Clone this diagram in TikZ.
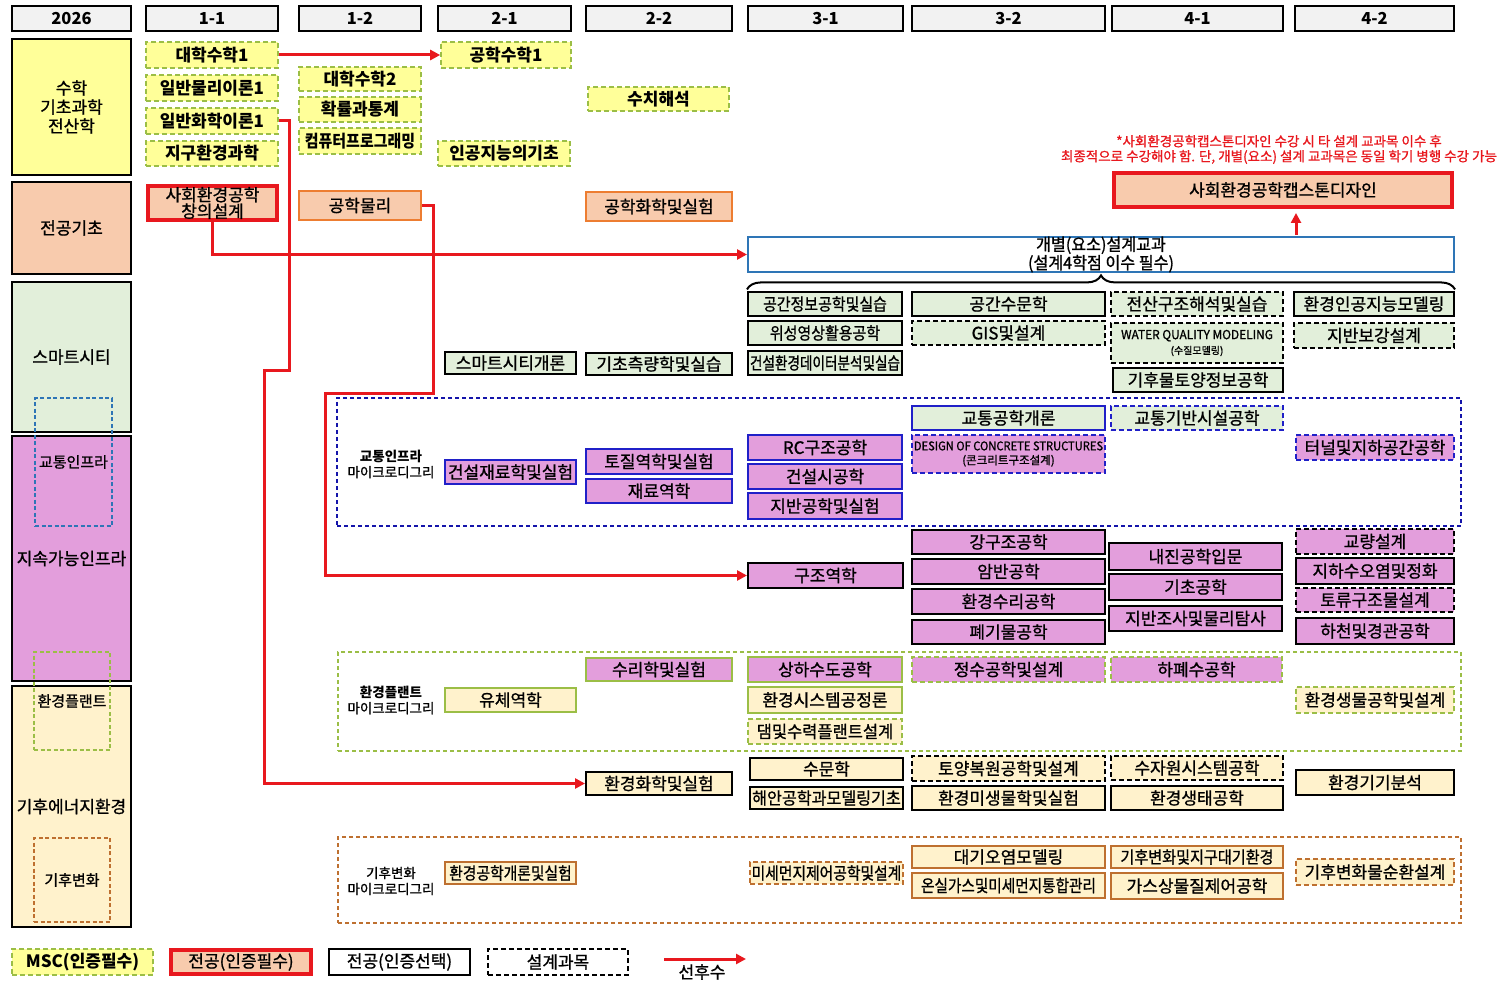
\documentclass[tikz,border=0pt]{standalone}
\usepackage{fontspec}
\setmainfont{Noto Sans CJK KR}[UprightFeatures={FakeBold=1}]
\usepackage{graphicx}
\usetikzlibrary{arrows.meta,decorations.pathreplacing}
\definecolor{cyel}{HTML}{FFFF99}
\definecolor{cgrn}{RGB}{155,190,70}
\definecolor{chdr}{HTML}{F2F2F2}
\definecolor{csal}{HTML}{F8CBAD}
\definecolor{corg}{HTML}{ED7D31}
\definecolor{cred}{RGB}{232,24,30}
\definecolor{cgrl}{HTML}{E2EFDA}
\definecolor{cpnk}{RGB}{227,158,220}
\definecolor{ccrm}{HTML}{FFF2CC}
\definecolor{cblu}{RGB}{32,32,200}
\definecolor{cnav}{RGB}{20,20,170}
\definecolor{csky}{HTML}{2E75B6}
\definecolor{cbrn}{RGB}{190,112,48}
\newcommand\sq[2]{\scalebox{#1}[1]{#2}}
\newcommand\bx[8][]{%
  \pgfmathsetmacro\bxw{#6-#4}%
  \pgfmathsetmacro\bxh{#7-#5}%
  \pgfmathsetmacro\bxx{(#4+#6)/2}%
  \pgfmathsetmacro\bxy{(#5+#7)/2}%
  \node[#2,minimum width=\bxw pt,minimum height=\bxh pt,#1] (#3) at (\bxx,\bxy) {#8};}
\begin{document}
\begin{tikzpicture}[x=1pt,y=-1pt,
  base/.style={rectangle, inner sep=0pt, align=center, line width=2pt, font=\fontsize{17}{18}\selectfont},
  hdr/.style={base, fill=chdr, draw=black, font=\fontsize{16.5}{17}\selectfont\bfseries},
  cat/.style={base, draw=black, font=\fontsize{17}{19}\selectfont},
  ovl/.style={base, dash pattern=on 4pt off 2.5pt, line width=1.5pt, font=\fontsize{15}{16}\selectfont},
  msc/.style={base, fill=cyel, draw=cgrn, dash pattern=on 5pt off 3pt, line width=1.6pt, font=\fontsize{17}{18}\selectfont\bfseries},
  req/.style={base, fill=csal, draw=cred, line width=4pt},
  fnd/.style={base, fill=csal, draw=corg},
  cont/.style={base, dash pattern=on 4pt off 3pt, line width=2pt},
  mlab/.style={inner sep=0pt, align=center, font=\fontsize{13.5}{16}\selectfont},
  crs/.style={base},
  fgr/.style={fill=cgrl}, fpk/.style={fill=cpnk}, fcr/.style={fill=ccrm}, fwh/.style={fill=white},
  kblk/.style={draw=black}, kblu/.style={draw=cblu}, kgrn/.style={draw=cgrn}, kbrn/.style={draw=cbrn},
  dsg/.style={dash pattern=on 5pt off 3pt},
  lgd/.style={font=\fontsize{17}{18}\selectfont},
  pre/.style={draw=cred, line width=3pt, -{Triangle[length=10pt,width=10pt]}}
]
\fill[white] (0,0) rectangle (1509,984);
\useasboundingbox (0,0) rectangle (1509,984);

% headers
\bx{hdr}{h0}{12}{6}{131}{31}{2026}
\bx{hdr}{h11}{146}{6}{278}{31}{1-1}
\bx{hdr}{h12}{299}{6}{421}{31}{1-2}
\bx{hdr}{h21}{438}{6}{571}{31}{2-1}
\bx{hdr}{h22}{586}{6}{732}{31}{2-2}
\bx{hdr}{h31}{748}{6}{903}{31}{3-1}
\bx{hdr}{h32}{912}{6}{1105}{31}{3-2}
\bx{hdr}{h41}{1112}{6}{1283}{31}{4-1}
\bx{hdr}{h42}{1295}{6}{1454}{31}{4-2}

% categories
\bx{cat,fill=cyel}{c1}{12}{39}{131}{175}{수학\\기초과학\\전산학}
\bx{cat,fill=csal}{c2}{12}{182}{131}{274}{전공기초}
\bx{cat,fill=cgrl}{c3}{12}{282}{131}{432}{스마트시티}
\bx{cat,fill=cpnk}{c4}{12}{436}{131}{681}{지속가능인프라}
\bx{cat,fill=ccrm}{c5}{12}{686}{131}{927}{기후에너지환경}
\bx{ovl,draw=csky}{o1}{35}{398}{112}{526}{교통인프라}
\bx{ovl,draw=cgrn}{o2}{34}{652}{110}{750}{환경플랜트}
\bx{ovl,draw=cbrn}{o3}{34}{838}{110}{922}{기후변화}

% containers
\bx{cont,draw=cnav}{tcon}{337}{398}{1461}{526}{}
\bx{cont,draw=cgrn}{pcon}{338}{652}{1461}{751}{}
\bx{cont,draw=cbrn}{kcon}{338}{837}{1461}{923}{}
\node[mlab] (tlab) at (391,464) {\textbf{교통인프라}\\마이크로디그리};
\node[mlab] (plab) at (391,700) {\textbf{환경플랜트}\\마이크로디그리};
\node[mlab] (klab) at (391,881) {기후변화\\마이크로디그리};

% MSC
\bx{msc}{m1}{146}{42}{278}{68}{대학수학1}
\bx{msc}{m2}{146}{75}{278}{101}{일반물리이론1}
\bx{msc}{m3}{146}{108}{278}{134}{일반화학이론1}
\bx{msc}{m4}{146}{141}{278}{166}{지구환경과학}
\bx{msc}{m5}{299}{67}{421}{91}{대학수학2}
\bx{msc}{m6}{299}{97}{421}{122}{확률과통계}
\bx{msc}{m7}{299}{128}{421}{154}{\sq{0.88}{컴퓨터프로그래밍}}
\bx{msc}{m8}{441}{42}{571}{68}{공학수학1}
\bx{msc}{m9}{438}{141}{570}{166}{인공지능의기초}
\bx{msc}{m10}{588}{87}{729}{111}{수치해석}

% major basics
\bx[font=\fontsize{17}{14}\selectfont]{req}{b1}{148}{186}{277}{220}{사회환경공학\\창의설계}
\bx{fnd}{b2}{299}{191}{421}{220}{공학물리}
\bx{fnd}{b3}{586}{192}{732}{221}{공학화학및실험}
\bx{req}{cap}{1114}{173}{1452}{207}{사회환경공학캡스톤디자인}
\node[inner sep=0pt, align=center, text=cred, font=\fontsize{13.5}{15}\selectfont] (note) at (1279,149.5)
  {*사회환경공학캡스톤디자인 수강 시 타 설계 교과목 이수 후\\최종적으로 수강해야 함. 단, 개별(요소) 설계 교과목은 동일 학기 병행 수강 가능};
\bx[font=\fontsize{17}{15}\selectfont]{crs,fwh,draw=csky}{indiv}{748}{237}{1454}{272}{\sq{0.95}{개별(요소)설계교과}\\\sq{0.95}{(설계4학점 이수 필수)}}
\draw[line width=2pt, decorate, decoration={brace, amplitude=14pt, aspect=0.5}]
  ([yshift=-16pt]indiv.south west) -- ([yshift=-16pt]indiv.south east);

% smart city
\bx{crs,fgr,kblk}{s1}{445}{352}{576}{374}{스마트시티개론}
\bx{crs,fgr,kblk}{s2}{586}{353}{732}{375}{기초측량학및실습}
\bx{crs,fgr,kblk}{s3}{748}{292}{902}{316}{\sq{0.88}{공간정보공학및실습}}
\bx{crs,fgr,kblk}{s4}{748}{321}{902}{345}{\sq{0.88}{위성영상활용공학}}
\bx{crs,fgr,kblk}{s5}{748}{351}{902}{375}{\sq{0.8}{건설환경데이터분석및실습}}
\bx{crs,fgr,kblk}{s6}{912}{292}{1105}{316}{공간수문학}
\bx{crs,fgr,kblk,dsg}{s7}{912}{321}{1105}{345}{GIS및설계}
\bx{crs,fgr,kblk,dsg}{s8}{1111}{292}{1283}{316}{전산구조해석및실습}
\bx[font=\fontsize{12.5}{15}\selectfont]{crs,fgr,kblk,dsg}{s9}{1111}{323}{1283}{363}{\sq{0.95}{WATER QUALITY MODELING}\\{\fontsize{10}{10}\selectfont(수질모델링)}}
\bx{crs,fgr,kblk}{s10}{1113}{368}{1283}{392}{기후물토양정보공학}
\bx{crs,fgr,kblk}{s11}{1294}{292}{1454}{316}{환경인공지능모델링}
\bx{crs,fgr,kblk,dsg}{s12}{1294}{323}{1454}{348}{지반보강설계}

% transport
\bx{crs,fpk,kblu}{t1}{445}{460}{576}{484}{건설재료학및실험}
\bx{crs,fpk,kblu}{t2}{586}{449}{732}{474}{토질역학및실험}
\bx{crs,fpk,kblu}{t3}{586}{479}{732}{503}{재료역학}
\bx{crs,fpk,kblu}{t4}{748}{435}{902}{460}{RC구조공학}
\bx{crs,fpk,kblu}{t5}{748}{464}{902}{489}{건설시공학}
\bx{crs,fpk,kblu}{t6}{748}{493}{902}{519}{지반공학및실험}
\bx{crs,fgr,kblu}{t7}{912}{406}{1105}{430}{교통공학개론}
\bx[font=\fontsize{12}{14}\selectfont]{crs,fpk,kblu,dsg}{t8}{912}{435}{1105}{473}{\sq{0.93}{DESIGN OF CONCRETE STRUCTURES}\\{\fontsize{11.5}{10}\selectfont(콘크리트구조설계)}}
\bx{crs,fgr,kblu,dsg}{t9}{1111}{406}{1283}{430}{교통기반시설공학}
\bx{crs,fpk,kblu,dsg}{t10}{1296}{435}{1454}{460}{터널및지하공간공학}

% infrastructure
\bx{crs,fpk,kblk}{i1}{748}{563}{903}{588}{구조역학}
\bx{crs,fpk,kblk}{i2}{912}{530}{1105}{554}{강구조공학}
\bx{crs,fpk,kblk}{i3}{912}{559}{1105}{584}{암반공학}
\bx{crs,fpk,kblk}{i4}{912}{589}{1105}{614}{환경수리공학}
\bx{crs,fpk,kblk}{i5}{912}{620}{1105}{644}{폐기물공학}
\bx{crs,fpk,kblk}{i6}{1109}{543}{1282}{570}{내진공학입문}
\bx{crs,fpk,kblk}{i7}{1109}{574}{1282}{600}{기초공학}
\bx{crs,fpk,kblk}{i8}{1109}{606}{1282}{631}{지반조사및물리탐사}
\bx{crs,fpk,kblk,dsg}{i9}{1296}{529}{1454}{554}{교량설계}
\bx{crs,fpk,kblk}{i10}{1296}{558}{1454}{584}{지하수오염및정화}
\bx{crs,fpk,kblk,dsg}{i11}{1296}{588}{1454}{612}{토류구조물설계}
\bx{crs,fpk,kblk}{i12}{1296}{618}{1454}{644}{하천및경관공학}

% environmental plant
\bx{crs,fcr,kgrn}{p1}{445}{688}{576}{712}{유체역학}
\bx{crs,fpk,kgrn}{p2}{586}{658}{732}{681}{수리학및실험}
\bx{crs,fpk,kgrn}{p3}{748}{657}{902}{682}{상하수도공학}
\bx{crs,fpk,kgrn,dsg}{p4}{912}{657}{1105}{682}{정수공학및설계}
\bx{crs,fpk,kgrn,dsg}{p5}{1111}{657}{1282}{682}{하폐수공학}
\bx{crs,fcr,kgrn}{p6}{748}{687}{902}{713}{환경시스템공정론}
\bx{crs,fcr,kgrn,dsg}{p7}{748}{719}{902}{744}{\sq{0.97}{댐및수력플랜트설계}}
\bx{crs,fcr,kgrn,dsg}{p8}{1296}{687}{1454}{713}{환경생물공학및설계}

% climate energy environment
\bx{crs,fcr,kblk}{e1}{586}{772}{732}{795}{환경화학및실험}
\bx{crs,fcr,kblk}{e2}{750}{758}{903}{780}{수문학}
\bx{crs,fcr,kblk}{e3}{750}{787}{903}{809}{\sq{0.95}{해안공학과모델링기초}}
\bx{crs,fcr,kblk,dsg}{e4}{912}{756}{1105}{781}{토양복원공학및설계}
\bx{crs,fcr,kblk}{e5}{912}{786}{1105}{810}{환경미생물학및실험}
\bx{crs,fcr,kblk,dsg}{e6}{1111}{756}{1283}{780}{수자원시스템공학}
\bx{crs,fcr,kblk}{e7}{1111}{786}{1283}{810}{환경생태공학}
\bx{crs,fcr,kblk}{e8}{1296}{770}{1454}{795}{환경기기분석}

% climate change
\bx{crs,fcr,kbrn}{k1}{445}{862}{576}{884}{\sq{0.87}{환경공학개론및실험}}
\bx{crs,fcr,kbrn,dsg}{k2}{750}{862}{903}{884}{\sq{0.87}{미세먼지제어공학및설계}}
\bx{crs,fcr,kbrn}{k3}{912}{846}{1105}{868}{대기오염모델링}
\bx{crs,fcr,kbrn}{k4}{912}{873}{1105}{898}{\sq{0.86}{온실가스및미세먼지통합관리}}
\bx{crs,fcr,kbrn}{k5}{1111}{846}{1283}{868}{\sq{0.89}{기후변화및지구대기환경}}
\bx{crs,fcr,kbrn}{k6}{1111}{873}{1283}{899}{가스상물질제어공학}
\bx{crs,fcr,kbrn,dsg}{k7}{1296}{859}{1454}{885}{기후변화물순환설계}

% legend
\bx[lgd]{msc}{L1}{12}{949}{153}{975}{\bfseries MSC(인증필수)}
\bx[lgd]{req}{L2}{171}{950}{311}{974}{전공(인증필수)}
\bx[lgd]{crs,fwh,kblk}{L3}{329}{949}{470}{975}{전공(인증선택)}
\bx[lgd]{crs,fwh,kblk,dsg}{L4}{488}{949}{628}{975}{설계과목}
\coordinate (la) at (664,959);
\coordinate (lb) at (746,959);
\node[inner sep=0pt, lgd] (lt) at (702,972) {선후수};

% prerequisite connectors
\draw[pre] (m1.east) -- (m8.west);
\draw[pre] (m3.east) -- ++(11,0) -- ++(0,249) -- ++(-25,0) |- (e1.west);
\draw[pre] (b1.south) |- (indiv.west);
\draw[pre] (b2.east) -- ++(11,0) -- ++(0,188) -- ++(-108,0) |- (i1.west);
\draw[pre] ([xshift=13pt,yshift=-26pt]cap.south) -- ([xshift=13pt,yshift=-4pt]cap.south);
\draw[pre] (la) -- (lb);
\end{tikzpicture}
\end{document}
